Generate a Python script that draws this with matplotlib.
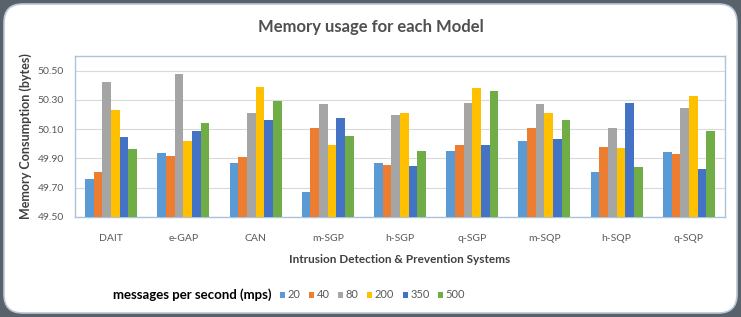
import matplotlib.pyplot as plt
import numpy as np
from matplotlib.patches import FancyBboxPatch

plt.rcParams['font.family'] = ['Lato', 'DejaVu Sans']

systems = ["DAIT", "e-GAP", "CAN", "m-SGP", "h-SGP", "q-SGP", "m-SQP", "h-SQP", "q-SQP"]
rates = ["20", "40", "80", "200", "350", "500"]

mem_20 = [49.76, 49.94, 49.87, 49.67, 49.87, 49.95, 50.02, 49.81, 49.945]
mem_40 = [49.81, 49.92, 49.91, 50.11, 49.855, 49.99, 50.11, 49.98, 49.93]
mem_80 = [50.42, 50.48, 50.21, 50.27, 50.20, 50.28, 50.27, 50.11, 50.245]
mem_200 = [50.23, 50.02, 50.39, 49.995, 50.21, 50.38, 50.21, 49.97, 50.33]
mem_350 = [50.045, 50.09, 50.16, 50.175, 49.85, 49.99, 50.03, 50.28, 49.83]
mem_500 = [49.965, 50.14, 50.29, 50.055, 49.95, 50.36, 50.165, 49.84, 50.09]

colors = ['#5B9BD5', '#ED7D31', '#A5A5A5', '#FFC000', '#4472C4', '#70AD47']

fig = plt.figure(figsize=(7.41, 3.17), dpi=100)
fig.patch.set_facecolor('#59616b')

# rounded white panel like the Excel chart area
panel = FancyBboxPatch((4 / 741, 4 / 317), 733 / 741, 309 / 317,
                       boxstyle="round,pad=0,rounding_size=0.025",
                       transform=fig.transFigure, facecolor='white',
                       edgecolor='#b8c8d8', linewidth=1.2,
                       mutation_aspect=741 / 317, zorder=-5)
fig.patches.append(panel)

ax = fig.add_axes([75 / 741, 1 - 217 / 317, 650 / 741, 161 / 317])
ax.set_facecolor('white')

x = np.arange(len(systems))
w = 0.12
series = [mem_20, mem_40, mem_80, mem_200, mem_350, mem_500]
base = 49.5
for i, (vals, c) in enumerate(zip(series, colors)):
    h = [v - base for v in vals]
    ax.bar(x + (i - 2.5) * w, h, width=w, bottom=base, color=c, label=rates[i], zorder=3)

ax.set_xlim(-0.5, len(systems) - 0.5)
ax.set_ylim(49.5, 50.6)
ax.set_yticks([49.5, 49.7, 49.9, 50.1, 50.3, 50.5])
ax.set_yticklabels(["49.50", "49.70", "49.90", "50.10", "50.30", "50.50"])
ax.set_xticks(x)
ax.set_xticklabels(systems)
ax.tick_params(axis='y', length=0, labelsize=7.5, colors='#595959', pad=8)
ax.tick_params(axis='x', length=0, labelsize=7.5, colors='#595959', pad=12)
ax.grid(axis='y', color='#d9d9d9', linewidth=0.8, zorder=0)
for s in ax.spines.values():
    s.set_color('#a9c4de')
    s.set_linewidth(1)

ax.set_ylabel("Memory Consumption (bytes)", fontsize=9, fontweight='bold', color='#404040', labelpad=4)
ax.set_xlabel("Intrusion Detection & Prevention Systems", fontsize=8.5, fontweight='bold', color='#404040', labelpad=8)

fig.text(0.5, 1 - 27 / 317, "Memory usage for each Model", ha='center', va='center',
         fontsize=12, fontweight='bold', color='#505050')

fig.text(113 / 741, 1 - 295 / 317, "messages per second (mps)", ha='left', va='center',
         fontsize=9.5, fontweight='bold', color='black')
leg = fig.legend(loc='center left', bbox_to_anchor=(280 / 741, 1 - 295 / 317), ncol=6,
                 frameon=False, fontsize=8, handlelength=0.45, handleheight=0.45,
                 handletextpad=0.25, columnspacing=0.75, borderaxespad=0, borderpad=0)
for t in leg.get_texts():
    t.set_color('#595959')

fig.savefig('out.png', dpi=100, facecolor=fig.get_facecolor())
